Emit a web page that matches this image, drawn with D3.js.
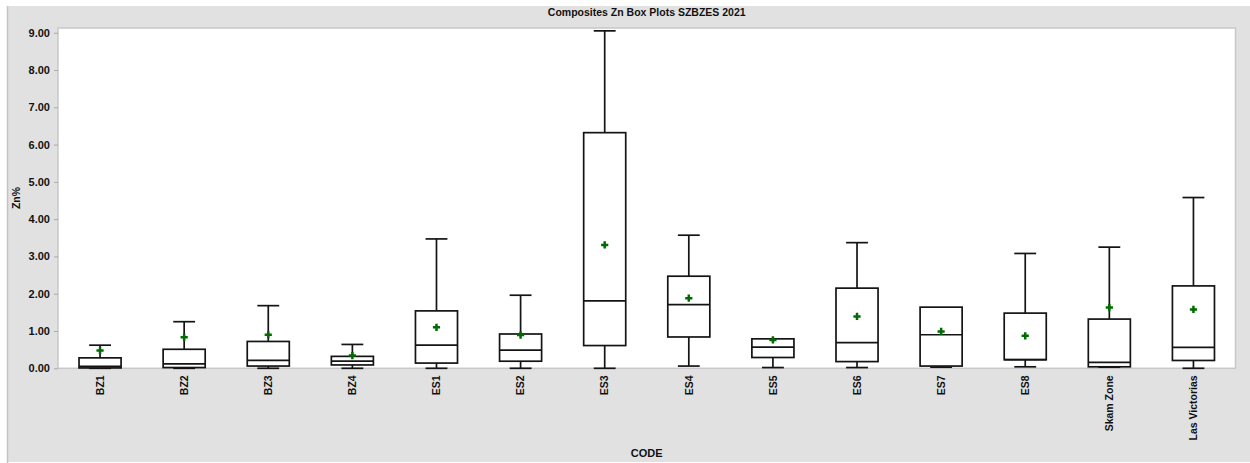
<!DOCTYPE html>
<html>
<head>
<meta charset="utf-8">
<script src="https://cdn.jsdelivr.net/npm/d3@7"></script>
<style>
  html, body { margin: 0; padding: 0; background: #ffffff; }
  svg { display: block; }
  text { font-family: "Liberation Sans", Arial, sans-serif; font-weight: bold; fill: #111; }
</style>
</head>
<body>
<svg id="chart" width="1250" height="463"></svg>
<script>
// Zn% composite statistics per CODE
const categories = ["BZ1", "BZ2", "BZ3", "BZ4", "ES1", "ES2", "ES3", "ES4", "ES5", "ES6", "ES7", "ES8", "Skam Zone", "Las Victorias"];
const whiskerLow  = [0.00, 0.00, 0.00, 0.00, 0.00, 0.00, 0.00, 0.06, 0.02, 0.02, 0.03, 0.04, 0.03, 0.00];
const q1Values    = [0.01, 0.02, 0.06, 0.09, 0.14, 0.19, 0.61, 0.84, 0.29, 0.18, 0.06, 0.23, 0.04, 0.21];
const medians     = [0.05, 0.12, 0.21, 0.19, 0.62, 0.49, 1.81, 1.71, 0.57, 0.69, 0.90, 0.23, 0.16, 0.56];
const q3Values    = [0.28, 0.51, 0.72, 0.32, 1.54, 0.92, 6.32, 2.47, 0.79, 2.15, 1.64, 1.48, 1.32, 2.21];
const whiskerHigh = [0.62, 1.25, 1.68, 0.64, 3.47, 1.96, 9.05, 3.57, 0.79, 3.37, 1.64, 3.08, 3.25, 4.58];
const means       = [0.48, 0.83, 0.90, 0.34, 1.10, 0.89, 3.31, 1.88, 0.76, 1.39, 0.99, 0.87, 1.63, 1.58];
const yTicks      = [0, 1, 2, 3, 4, 5, 6, 7, 8, 9];

const titleText = "Composites Zn Box Plots SZBZES 2021";
const xTitle = "CODE";
const yTitle = "Zn%";

const rows = categories.map((c, i) => ({
  code: c, lo: whiskerLow[i], q1: q1Values[i], med: medians[i],
  q3: q3Values[i], hi: whiskerHigh[i], mean: means[i]
}));

const svg = d3.select("#chart");
const W = 1250, H = 463;
const plot = { left: 58, top: 28, right: 1235.5, bottom: 368.3 };

// frame background
svg.append("rect").attr("x", 7).attr("y", 6).attr("width", W - 7).attr("height", H - 7)
  .attr("fill", "#e1e1e1");
svg.append("line").attr("x1", 7.5).attr("x2", 7.5).attr("y1", 6).attr("y2", H)
  .attr("stroke", "#c4c4c4").attr("stroke-width", 1.5);

const x = d3.scaleBand().domain(categories).range([plot.left, plot.right]).padding(0);
const y = d3.scaleLinear().domain([0, 9.127]).range([plot.bottom, plot.top]);

// plot area
svg.append("rect").attr("x", plot.left).attr("y", plot.top)
  .attr("width", plot.right - plot.left).attr("height", plot.bottom - plot.top)
  .attr("fill", "#ffffff").attr("stroke", "#c8c8c8").attr("stroke-width", 1.5);

// y axis
const yAxis = svg.append("g").attr("transform", `translate(${plot.left},0)`)
  .call(d3.axisLeft(y).tickValues(yTicks).tickFormat(d3.format(".2f")).tickSize(4).tickPadding(4));
yAxis.select(".domain").remove();
yAxis.selectAll(".tick line").attr("stroke", "#aaaaaa");
yAxis.selectAll(".tick text").style("font-size", "11px").style("font-family", "Liberation Sans, Arial, sans-serif")
  .style("font-weight", "bold").attr("fill", "#111");

// x axis labels (rotated)
const xAxis = svg.append("g").attr("transform", `translate(0,${plot.bottom})`)
  .call(d3.axisBottom(x).tickSize(0).tickPadding(0));
xAxis.select(".domain").remove();
xAxis.selectAll(".tick text")
  .style("font-size", "10.5px").style("font-family", "Liberation Sans, Arial, sans-serif")
  .style("font-weight", "bold").attr("fill", "#111")
  .attr("text-anchor", "end")
  .attr("transform", "rotate(-90)")
  .attr("x", -7).attr("y", 0).attr("dy", "0.36em");

const bw = x.bandwidth() * 0.5;
const cw = x.bandwidth() * 0.26;
const boxes = svg.append("g").selectAll("g").data(rows).join("g")
  .attr("transform", d => `translate(${x(d.code) + x.bandwidth() / 2},0)`);

const stroke = "#141414";
const sw = 1.7;
// whiskers
boxes.append("line").attr("x1", 0).attr("x2", 0)
  .attr("y1", d => y(d.q3)).attr("y2", d => y(d.hi))
  .attr("stroke", stroke).attr("stroke-width", sw);
boxes.append("line").attr("x1", 0).attr("x2", 0)
  .attr("y1", d => y(d.q1)).attr("y2", d => y(d.lo))
  .attr("stroke", stroke).attr("stroke-width", sw);
// caps
boxes.filter(d => d.hi > d.q3).append("line").attr("x1", -cw / 2).attr("x2", cw / 2)
  .attr("y1", d => y(d.hi)).attr("y2", d => y(d.hi))
  .attr("stroke", stroke).attr("stroke-width", sw);
boxes.append("line").attr("x1", -cw / 2).attr("x2", cw / 2)
  .attr("y1", d => y(d.lo)).attr("y2", d => y(d.lo))
  .attr("stroke", stroke).attr("stroke-width", sw);
// box
boxes.append("rect").attr("x", -bw / 2).attr("width", bw)
  .attr("y", d => y(d.q3)).attr("height", d => y(d.q1) - y(d.q3))
  .attr("fill", "#ffffff").attr("stroke", stroke).attr("stroke-width", sw);
// median
boxes.append("line").attr("x1", -bw / 2).attr("x2", bw / 2)
  .attr("y1", d => y(d.med)).attr("y2", d => y(d.med))
  .attr("stroke", stroke).attr("stroke-width", sw);
// mean marker
boxes.append("path")
  .attr("d", d => { const m = y(d.mean); return `M-3.6,${m}H3.6M0,${m - 3.6}V${m + 3.6}`; })
  .attr("stroke", "#006b00").attr("stroke-width", 2.5).attr("fill", "none");

// titles
svg.append("text").attr("x", (plot.left + plot.right) / 2).attr("y", 16)
  .attr("text-anchor", "middle").style("font-size", "10.5px").text(titleText);
svg.append("text").attr("x", (plot.left + plot.right) / 2).attr("y", 457)
  .attr("text-anchor", "middle").style("font-size", "11px").text(xTitle);
svg.append("text").attr("transform", `translate(20,198) rotate(-90)`)
  .attr("text-anchor", "middle").style("font-size", "10.5px").text(yTitle);
</script>
</body>
</html>
